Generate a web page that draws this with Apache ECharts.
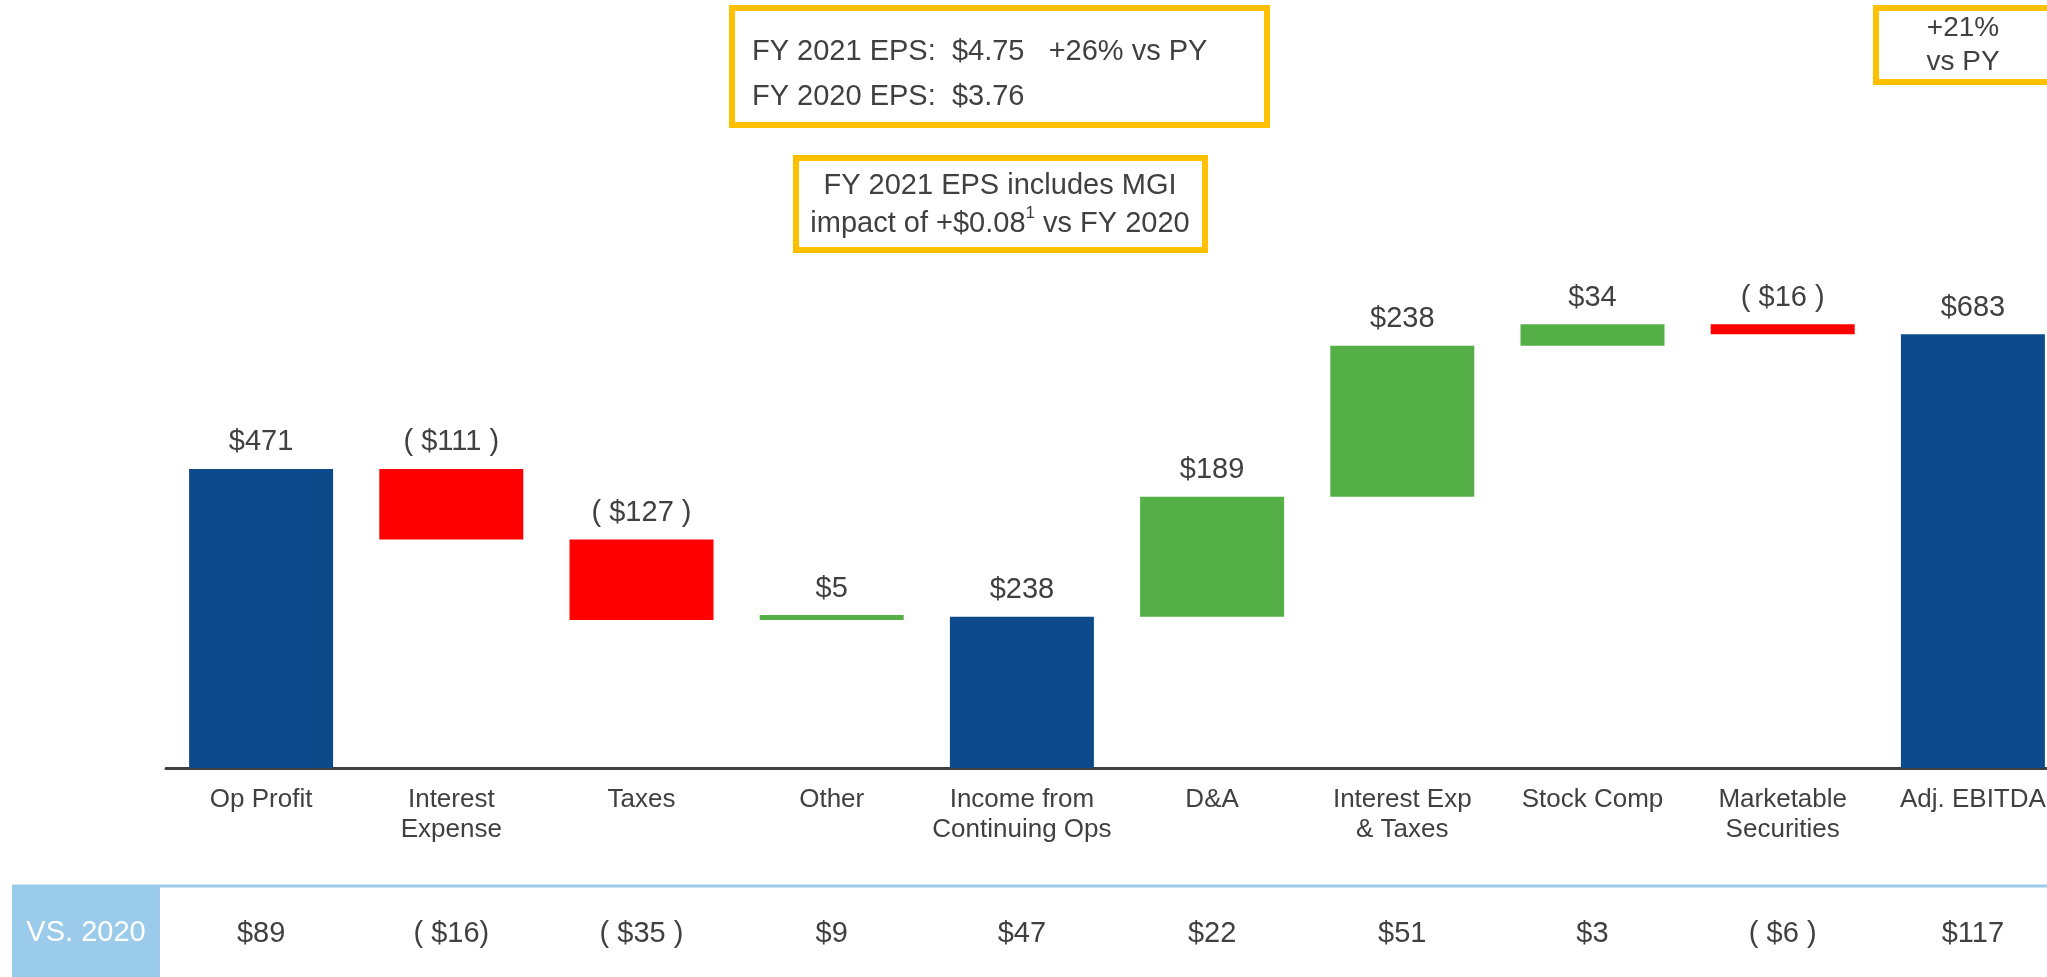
<!DOCTYPE html>
<html>
<head>
<meta charset="utf-8">
<title>EPS / EBITDA bridge</title>
<script src="https://cdn.jsdelivr.net/npm/echarts@6/dist/echarts.min.js"></script>
<style>
  html,body{margin:0;padding:0;background:#fff;overflow:hidden;}
  /* a bit wider than the window: the last bar runs off the right edge in the original */
  #main{width:2080px;height:977px;}
</style>
</head>
<body>
<div id="main"></div>
<script>
// bridge data, $M
const categories=['Op Profit','Interest\nExpense','Taxes','Other','Income from\nContinuing Ops','D&A','Interest Exp\n& Taxes','Stock Comp','Marketable\nSecurities','Adj. EBITDA'];
const amounts=[471,-111,-127,5,238,189,238,34,-16,683];
const isTotal=[true,false,false,false,true,false,false,false,false,true];
const barLabels=['$471','( $111 )','( $127 )','$5','$238','$189','$238','$34','( $16 )','$683'];
const vsPrior=['$89','( $16)','( $35 )','$9','$47','$22','$51','$3','( $6 )','$117'];

const blue='#0C4A8C';
const red='#FF0000';
const green='#54AF47';
const gold='#FFC000';
const lightBlue='#9BCBEB';
const textColor='#404040';
const font='"Liberation Sans", Arial, sans-serif';

// work out the invisible base and the visible piece of every bar
let base=[],piece=[];
let running=0;
for(var i=0;i<amounts.length;i++){
  let v=amounts[i];
  if(isTotal[i]){
    base.push(0);
    piece.push(v);
    running=v;
  }else if(v>=0){
    base.push(running);
    piece.push(v);
    running+=v;
  }else{
    base.push(running+v);
    piece.push(-v);
    running+=v;
  }
}
let colors=amounts.map(function(v,i){
  if(isTotal[i]) return blue;
  return v<0?red:green;
});

let chart=echarts.init(document.getElementById('main'),null,{renderer:'canvas'});

let option={
  animation:false,
  textStyle:{fontFamily:font},
  grid:{
    left:166,
    top:133,
    width:1902,
    height:635
  },
  xAxis:[
    {
      type:'category',
      data:categories,
      axisLine:{lineStyle:{color:textColor,width:3}},
      axisTick:{show:false},
      axisLabel:{
        interval:0,
        color:textColor,
        fontSize:26,
        lineHeight:30,
        margin:17,
        verticalAlign:'top'
      }
    },
    {
      // the "VS. 2020" row under the chart
      type:'category',
      position:'bottom',
      offset:151,
      data:vsPrior,
      axisLine:{show:false},
      axisTick:{show:false},
      axisLabel:{
        interval:0,
        color:textColor,
        fontSize:29,
        lineHeight:30,
        margin:0,
        verticalAlign:'top'
      }
    }
  ],
  yAxis:{
    type:'value',
    min:0,
    max:1000,
    show:false,
    splitLine:{show:false}
  },
  series:[
    {
      name:'base',
      type:'bar',
      stack:'bridge',
      barWidth:144,
      itemStyle:{color:'transparent'},
      emphasis:{disabled:true},
      data:base
    },
    {
      name:'change',
      type:'bar',
      stack:'bridge',
      barWidth:144,
      barMinHeight:5,
      data:piece.map(function(v,i){
        return {value:v,itemStyle:{color:colors[i]}};
      }),
      label:{
        show:true,
        position:'top',
        distance:12,
        color:textColor,
        fontSize:29,
        formatter:function(p){
          return barLabels[p.dataIndex];
        }
      }
    }
  ],
  graphic:[
    // EPS box
    {
      type:'rect',
      shape:{x:732,y:8,width:535,height:117},
      style:{fill:'#fff',stroke:gold,lineWidth:6}
    },
    {
      type:'text',
      left:752,
      top:29,
      style:{
        text:'FY 2021 EPS:  $4.75   +26% vs PY\nFY 2020 EPS:  $3.76',
        fill:textColor,
        font:'29px '+font,
        lineHeight:45
      }
    },
    // MGI box
    {
      type:'rect',
      shape:{x:796,y:158,width:409,height:92},
      style:{fill:'#fff',stroke:gold,lineWidth:6}
    },
    {
      type:'text',
      x:1000,
      y:205,
      style:{
        text:'FY 2021 EPS includes MGI\n{n|impact of +$0.08}{sup|1}{n| vs FY 2020}',
        fill:textColor,
        font:'29px '+font,
        align:'center',
        verticalAlign:'middle',
        lineHeight:38,
        rich:{
          n:{fontSize:29,fontFamily:font,fill:textColor,lineHeight:38},
          sup:{fontSize:17,fontFamily:font,fill:textColor,verticalAlign:'top',padding:[0,0,16,0]}
        }
      }
    },
    // EBITDA growth box
    {
      type:'rect',
      shape:{x:1876,y:8,width:200,height:74},
      style:{fill:'#fff',stroke:gold,lineWidth:6}
    },
    {
      type:'text',
      x:1963,
      y:45,
      style:{
        text:'+21%\nvs PY',
        fill:textColor,
        font:'28px '+font,
        align:'center',
        verticalAlign:'middle',
        lineHeight:34
      }
    },
    // vs prior year row
    {
      type:'line',
      shape:{x1:12,y1:886,x2:2080,y2:886},
      style:{stroke:lightBlue,lineWidth:3}
    },
    {
      type:'rect',
      shape:{x:12,y:886,width:148,height:91},
      style:{fill:lightBlue}
    },
    {
      type:'text',
      x:86,
      y:933,
      style:{
        text:'VS. 2020',
        fill:'#fff',
        font:'29px '+font,
        align:'center',
        verticalAlign:'middle'
      }
    }
  ]
};
chart.setOption(option);
</script>
</body>
</html>
